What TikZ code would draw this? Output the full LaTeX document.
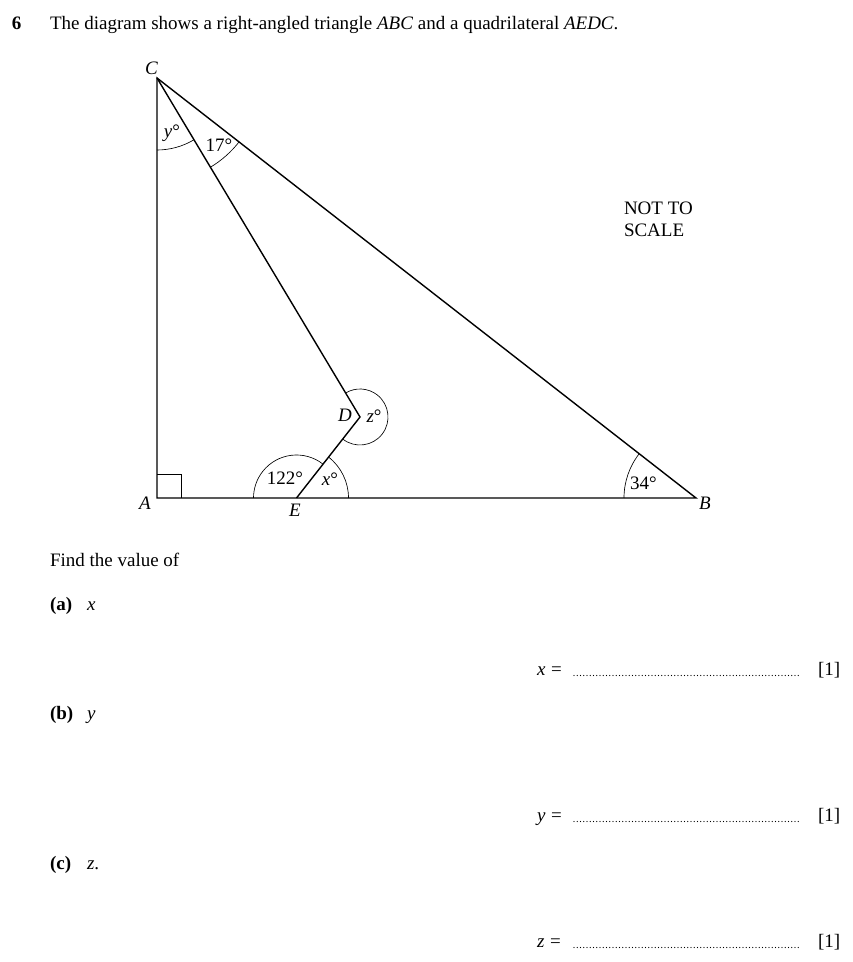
\documentclass[tikz,border=0pt]{standalone}
\usepackage{fontspec}
\setmainfont{Liberation Serif}
\usetikzlibrary{angles,calc}
\begin{document}
\begin{tikzpicture}[x=1pt,y=1pt,
  every node/.style={inner sep=0pt, outer sep=0pt, font=\fontsize{19}{23}\selectfont},
  edge/.style={line width=1.4pt, line join=miter},
  arcmark/.style={draw, line width=0.65pt},
  txt/.style={anchor=base west},
  lbl/.style={anchor=center},
  leader/.style={line width=1.3pt, line cap=round, dash pattern=on 0pt off 3.25pt}]
\useasboundingbox (0,0) rectangle (853,962);
% vertices
\coordinate (A) at (157,464);
\coordinate (B) at (696,464);
\coordinate (C) at (157,884);
\coordinate (E) at (296.5,464);
\coordinate (D) at (360,545);
% triangle and quadrilateral
\draw[edge] (A) -- (B) -- (C) -- cycle;
\draw[edge] (C) -- (D) -- (E);
% right angle
\draw[line width=0.65pt] ($(A)+(0,24)$) -- ++(24,0) -- ++(0,-24);
% angle arcs
\pic[arcmark, angle radius=43pt] {angle=D--E--A};
\pic[arcmark, angle radius=52pt] {angle=B--E--D};
\pic[arcmark, angle radius=72pt] {angle=A--C--D};
\pic[arcmark, angle radius=104pt] {angle=D--C--B};
\pic[arcmark, angle radius=72pt] {angle=C--B--A};
\pic[arcmark, angle radius=28pt] {angle=E--D--C};
% vertex labels
\node[lbl] (lC) at (151.5,893.5) {\textit{C}};
\node[lbl] (lA) at (145,458.5) {\textit{A}};
\node[lbl] (lB) at (705,458.5) {\textit{B}};
\node[lbl] (lE) at (295,452) {\textit{E}};
\node[lbl] (lD) at (345,547) {\textit{D}};
% angle labels
\node[lbl] (ly) at (172,829) {\textit{y}°};
\node[lbl] (l17) at (219,817) {17°};
\node[lbl] (lz) at (374,545.5) {\textit{z}°};
\node[lbl] (l122) at (285,483.5) {122°};
\node[lbl] (lx) at (330,482.5) {\textit{x}°};
\node[lbl] (l34) at (643.5,478.5) {34°};
% NOT TO SCALE
\node[txt] (nts1) at (624,747) {NOT TO};
\node[txt] (nts2) at (624,725.3) {SCALE};
% question text
\node[txt] (qn) at (12,932.5) {\textbf{6}};
\node[txt] (qt) at (50,932.5) {The diagram shows a right-angled triangle \textit{ABC} and a quadrilateral \textit{AEDC}.};
\node[txt] (find) at (50,395.3) {Find the value of};
\node[txt] (pa) at (50,351) {\textbf{(a)}};
\node[txt] (pax) at (87,351) {\textit{x}};
\node[txt] (pb) at (50,242) {\textbf{(b)}};
\node[txt] (pby) at (87,242) {\textit{y}};
\node[txt] (pc) at (50,92) {\textbf{(c)}};
\node[txt] (pcz) at (87,92) {\textit{z}.};
% answer lines
\node[txt] (ax) at (537,286) {\textit{x}\hspace{0.3em}=};
\coordinate (ax1) at (574,286.5);
\coordinate (ax2) at (800,286.5);
\draw[leader] (ax1) -- (ax2);
\node[txt] (mx) at (818,286) {[1]};
\node[txt] (ay) at (537,140) {\textit{y}\hspace{0.3em}=};
\coordinate (ay1) at (574,140.5);
\coordinate (ay2) at (800,140.5);
\draw[leader] (ay1) -- (ay2);
\node[txt] (my) at (818,140) {[1]};
\node[txt] (az) at (537,14) {\textit{z}\hspace{0.3em}=};
\coordinate (az1) at (574,14.5);
\coordinate (az2) at (800,14.5);
\draw[leader] (az1) -- (az2);
\node[txt] (mz) at (818,14) {[1]};
\end{tikzpicture}
\end{document}
